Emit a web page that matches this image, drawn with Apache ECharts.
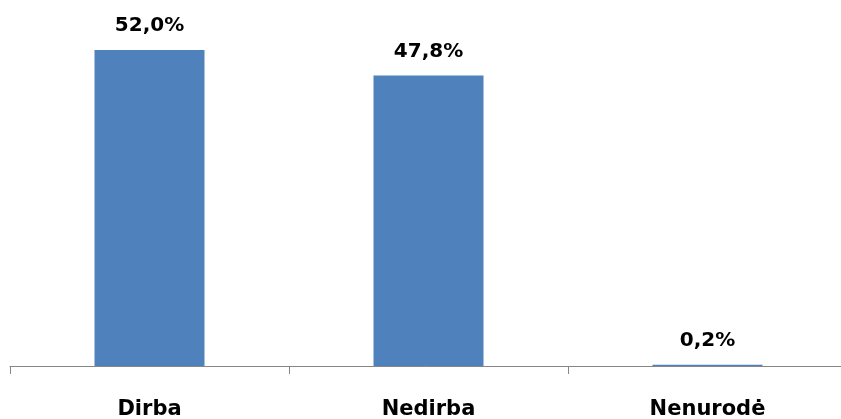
<!DOCTYPE html>
<html><head><meta charset="utf-8">
<script src="https://cdn.jsdelivr.net/npm/echarts@6/dist/echarts.min.js"></script>
<style>html,body{margin:0;padding:0;background:#fff}#c{width:841px;height:419px}</style>
</head><body><div id="c"></div>
<script>
const categories = ['Dirba', 'Nedirba', 'Nenurodė'];
const values = [52.0, 47.8, 0.2];

const chart = echarts.init(document.getElementById('c'));
const font = '"DejaVu Sans", sans-serif';
chart.setOption({
  animation: false,
  grid: { left: 10, width: 837, top: 1.4, bottom: 53, outerBoundsMode: 'none', containLabel: false },
  xAxis: {
    type: 'category',
    data: categories,
    axisLine: { lineStyle: { color: '#868686', width: 1 } },
    axisTick: { show: true, length: 8, lineStyle: { color: '#868686' } },
    axisLabel: { margin: 33, color: '#000', fontFamily: font, fontWeight: 'bold', fontSize: 21 }
  },
  yAxis: {
    type: 'value', min: 0, max: 60, interval: 10,
    show: false, splitLine: { show: false }
  },
  series: [{
    type: 'bar',
    data: values,
    barWidth: 110,
    itemStyle: { color: '#4F81BD' },
    label: {
      show: true, position: 'top', distance: 14,
      color: '#000', fontFamily: font, fontWeight: 'bold', fontSize: 20,
      formatter: p => p.value.toFixed(1).replace('.', ',') + '%'
    }
  }]
});
</script></body></html>
